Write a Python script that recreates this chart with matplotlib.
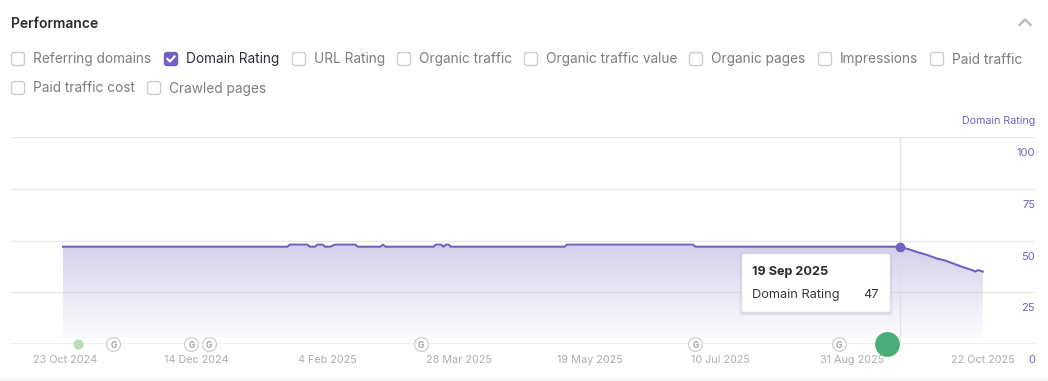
import numpy as np
import matplotlib
matplotlib.use("Agg")
import matplotlib.pyplot as plt
from matplotlib.patches import FancyBboxPatch

# x values are days after 23 Oct 2024
dr_days = [-1, 88, 89, 96, 97, 99, 100, 102, 103, 105, 107, 115, 116, 125, 126, 127,
           146, 147, 149, 150, 151, 152, 153, 198, 199, 249, 250, 331,
           334, 338, 342, 346, 349, 352, 356, 360, 361, 362, 364]
dr_values = [47, 47, 48, 48, 47, 47, 48, 48, 47, 47, 48, 48, 47, 47, 48, 47,
             47, 48, 48, 47, 48, 48, 47, 47, 48, 48, 47, 47,
             46, 44.4, 43, 41.2, 40.4, 39, 37.2, 35.6, 35, 35.7, 35]

tick_days = [0, 52, 104, 156, 208, 260, 312, 364]
tick_labels = ["23 Oct 2024", "14 Dec 2024", "4 Feb 2025", "28 Mar 2025",
               "19 May 2025", "10 Jul 2025", "31 Aug 2025", "22 Oct 2025"]
y_ticks = [0, 25, 50, 75, 100]

google_days = [19, 50, 57, 141, 250, 307]
small_event_days = [5]
big_event_days = [326]
hover_day = 331
hover_value = 47

row1_boxes = [11, 164, 292, 397, 524, 689, 818, 930]
row1_labels = ["Referring domains", "Domain Rating", "URL Rating", "Organic traffic",
               "Organic traffic value", "Organic pages", "Impressions", "Paid traffic"]
row2_boxes = [11, 147]
row2_labels = ["Paid traffic cost", "Crawled pages"]

PURPLE = "#7460c2"
plt.rcParams["font.family"] = ["Inter", "DejaVu Sans"]

W, H = 1048, 381
fig = plt.figure(figsize=(W / 100, H / 100), dpi=100)

# chart area: x 11-1035 px, y 137-344 px
ax = fig.add_axes([11 / W, 1 - 344 / H, 1024 / W, 207 / H])
px_per_day = 2.52
x0, x1 = (11 - 65.5) / px_per_day, (1035 - 65.5) / px_per_day
for s in ax.spines.values():
    s.set_visible(False)

# gradient area under the line
cmap = matplotlib.colors.LinearSegmentedColormap.from_list("fade", ["#ffffff", "#d5d0eb"])
img = ax.imshow(np.linspace(1, 0, 256).reshape(-1, 1), cmap=cmap, aspect="auto",
                extent=[x0, x1, 0, 47], zorder=1)
poly = ax.fill_between(dr_days, dr_values, 0, color="none", zorder=1)
img.set_clip_path(poly.get_paths()[0], transform=ax.transData)

ax.set_xlim(x0, x1)
ax.set_ylim(0, 100)
ax.set_yticks(y_ticks)
ax.set_yticklabels([])
ax.set_xticks(tick_days, tick_labels)
ax.tick_params(axis="both", length=0)
ax.tick_params(axis="x", pad=8, labelsize=7.8, labelcolor="#adadad")
for y in y_ticks[1:]:
    ax.axhline(y, color="#c9c9c9", alpha=0.4, lw=1, zorder=2)
ax.axhline(0, color="#efefef", lw=2, zorder=2)
ax.axvline(hover_day, color="#dcdcdc", alpha=0.7, lw=1, zorder=2)
for y in y_ticks:
    ax.annotate(str(y), (1, y / 100), xycoords="axes fraction", xytext=(0, -16 * 0.72),
                textcoords="offset points", ha="right", va="center", fontsize=8, color=PURPLE)

ax.plot(dr_days, dr_values, color=PURPLE, lw=1.5, zorder=3, solid_joinstyle="round")
ax.plot([hover_day], [hover_value], "o", color=PURPLE, ms=6, zorder=4)

ax.scatter(google_days, [0] * len(google_days), s=100, facecolor="white", edgecolor="#cfcfcf",
           lw=0.9, zorder=4, clip_on=False)
for d in google_days:
    ax.text(d, 0, "G", ha="center", va="center_baseline", fontsize=6, fontweight="bold",
            color="#a0a0a0", zorder=5)
ax.scatter(small_event_days, [0], s=55, color="#b6dfb8", lw=0, zorder=4, clip_on=False)
ax.scatter(big_event_days, [0], s=320, color="#4aad78", lw=0, zorder=4, clip_on=False)

# page furniture, in pixel coordinates
ui = fig.add_axes([0, 0, 1, 1], zorder=5)
ui.set_xlim(0, W)
ui.set_ylim(H, 0)
ui.axis("off")
ui.patch.set_alpha(0)

ui.text(11, 23.5, "Performance", fontsize=10, fontweight="semibold", color="#2b2b2b", va="center")
ui.plot([1019.5, 1025, 1030.5], [25, 19.5, 25], color="#bdbdbd", lw=1.8)
ui.text(1035, 120.5, "Domain Rating", fontsize=7.7, color=PURPLE, ha="right", va="center")
ui.plot([0, W], [379, 379], color="#ececec", lw=1)


def checkbox(x, yc, label, checked=False):
    face = PURPLE if checked else "white"
    edge = PURPLE if checked else "#cccccc"
    ui.add_patch(FancyBboxPatch((x + 0.5, yc - 6.5), 13, 13, boxstyle="round,pad=0,rounding_size=2.5",
                                facecolor=face, edgecolor=edge, lw=1))
    if checked:
        ui.plot([x + 3.5, x + 6, x + 10.5], [yc, yc + 2.5, yc - 2.5], color="white", lw=1.6)
    ui.text(x + 22, yc + 0.5, label, fontsize=9.85, va="center", color="#2f2f3a" if checked else "#7d7d7d")


for bx, lab in zip(row1_boxes, row1_labels):
    checkbox(bx, 59, lab, checked=lab == "Domain Rating")
for bx, lab in zip(row2_boxes, row2_labels):
    checkbox(bx, 88, lab)

# tooltip
for grow, alpha in [(3, 0.03), (2, 0.05), (1, 0.07)]:
    ui.add_patch(FancyBboxPatch((742 - grow, 254 - grow + 1), 148 + 2 * grow, 58 + 2 * grow,
                                boxstyle="round,pad=0,rounding_size=3", facecolor="#555555",
                                edgecolor="none", alpha=alpha))
ui.add_patch(FancyBboxPatch((742, 254), 148, 58, boxstyle="round,pad=0,rounding_size=2",
                            facecolor="white", edgecolor="#ececec", lw=0.5))
ui.text(752, 272.5, "19 Sep 2025", fontsize=9.1, fontweight="bold", color="#2b2b2b", va="center")
ui.text(752, 295, "Domain Rating", fontsize=9.2, color="#3a3a3a", va="center")
ui.text(879, 295, str(hover_value), fontsize=9.2, color="#3a3a3a", va="center", ha="right")

fig.savefig("out.png", dpi=100)
